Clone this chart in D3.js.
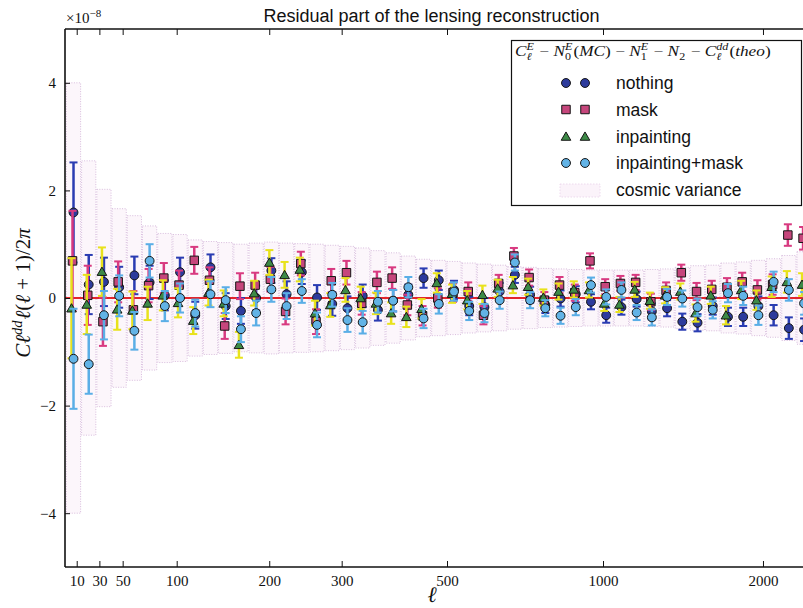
<!DOCTYPE html>
<html><head><meta charset="utf-8">
<script src="https://cdn.jsdelivr.net/npm/d3@7"></script>
<style>body{margin:0;background:#fff}svg{display:block}svg text{white-space:pre}</style>
</head><body>
<svg id="c" width="803" height="608"></svg>
<script>
// ---------- DATA (values in units of 1e-8) ----------
const binIndex = d3.range(49);
const nothing = [1.59,0.25,0.30,0.20,0.42,0.29,0.05,0.48,-0.32,0.57,-0.15,-0.24,0.00,0.51,0.07,0.48,0.01,-0.11,-0.19,0.04,-0.22,-0.05,0.06,0.37,0.33,0.15,-0.15,-0.17,0.12,0.43,0.06,-0.13,-0.01,0.07,-0.07,-0.32,-0.17,-0.02,-0.25,-0.19,-0.44,-0.46,-0.15,-0.35,-0.35,-0.15,-0.32,-0.56,-0.59];
const mask = [0.69,0.05,-0.44,0.30,-0.22,0.23,0.37,0.24,0.70,0.33,-0.52,0.22,0.24,0.35,-0.25,0.64,-0.44,0.32,0.47,-0.10,0.29,0.37,-0.13,-0.33,0.00,0.10,0.12,-0.32,0.27,0.78,0.38,-0.04,0.24,0.10,0.69,0.21,0.27,0.29,-0.07,0.14,0.47,0.12,0.16,0.20,0.30,0.15,0.25,1.17,1.11];
const inpainting = [-0.19,-0.12,0.49,-0.21,-0.23,-0.10,0.05,-0.09,-0.42,0.10,-0.10,-0.87,0.09,0.66,0.43,0.53,-0.28,-0.13,0.15,0.00,-0.10,-0.28,-0.35,-0.20,0.28,0.08,-0.04,0.06,0.18,0.24,0.21,0.01,0.12,0.16,0.15,-0.10,-0.12,0.16,-0.05,0.05,0.12,-0.28,0.05,-0.32,0.15,-0.04,0.21,0.30,0.25];
const inpaintingMask = [-1.13,-1.23,-0.32,0.04,-0.61,0.69,-0.15,0.00,-0.28,0.07,-0.04,-0.58,-0.28,0.16,-0.15,0.13,-0.50,0.06,-0.41,-0.45,-0.07,-0.05,0.20,-0.38,-0.11,0.12,-0.24,-0.28,-0.04,0.66,-0.04,-0.19,-0.33,-0.17,0.24,0.02,0.15,-0.27,-0.36,0.02,-0.01,-0.17,-0.22,0.09,0.04,-0.32,0.30,0.15,-0.10];
const errHalf = [0.93,0.55,0.45,0.38,0.35,0.31,0.28,0.27,0.25,0.24,0.24,0.24,0.23,0.23,0.24,0.22,0.23,0.22,0.22,0.21,0.20,0.20,0.19,0.18,0.18,0.17,0.17,0.17,0.16,0.15,0.15,0.15,0.15,0.15,0.14,0.14,0.14,0.14,0.15,0.15,0.15,0.16,0.16,0.17,0.17,0.18,0.19,0.20,0.21];
const cosmicVar = [4.00,2.55,2.02,1.66,1.53,1.34,1.20,1.18,1.08,1.05,1.03,1.00,1.02,1.04,1.02,1.01,1.00,0.98,0.96,0.93,0.88,0.84,0.78,0.72,0.70,0.68,0.65,0.63,0.61,0.58,0.57,0.55,0.54,0.53,0.52,0.52,0.52,0.52,0.53,0.54,0.57,0.60,0.61,0.65,0.67,0.70,0.73,0.79,0.86];
const tickLabels = [10,30,50,100,200,300,500,1000,2000];
const tickBinPos = [0.21,1.70,3.23,6.78,12.86,17.62,24.54,34.79,45.30]; // ℓ tick location in bin-index units
const yTicks = [-4,-2,0,2,4];
const seriesNames = ["nothing","mask","inpainting","inpainting+mask"];

// ---------- STYLE ----------
const series = [
  {name:seriesNames[0], vals:nothing,        shape:"circle",   fill:"#2d3b9c", bar:"#2a3cb2", dx:0},
  {name:seriesNames[1], vals:mask,           shape:"square",   fill:"#c6467c", bar:"#d83a80", dx:-1},
  {name:seriesNames[2], vals:inpainting,     shape:"triangle", fill:"#3d8a47", bar:"#e8e21c", dx:-2},
  {name:seriesNames[3], vals:inpaintingMask, shape:"circle",   fill:"#62b3e6", bar:"#5aaee6", dx:0}
];
const W = 803, H = 608;
const P = {left:65, top:29, bottom:567};
const binStep = 15.22;
const svg = d3.select("#c");
const x = d3.scaleLinear().domain([-0.5, 48.5]).range([65.9, 65.9 + 49*binStep]);
const y = d3.scaleLinear().domain([-5, 5]).range([P.bottom, P.top]);

svg.append("defs").append("clipPath").attr("id","clip")
  .append("rect").attr("x",P.left).attr("y",P.top).attr("width",W-P.left).attr("height",P.bottom-P.top);

const plot = svg.append("g").attr("clip-path","url(#clip)");

// cosmic variance boxes
plot.append("g").selectAll("rect").data(binIndex).join("rect")
  .attr("x", i => x(i-0.5)+0.5)
  .attr("width", i => x(i+0.5)-x(i-0.5)-1)
  .attr("y", i => y(cosmicVar[i]))
  .attr("height", i => y(-cosmicVar[i]) - y(cosmicVar[i]))
  .attr("fill","#fcf6fb").attr("stroke","#cfadd6").attr("stroke-width",0.8).attr("stroke-dasharray","1,1.5");

// zero line
plot.append("line").attr("x1",P.left).attr("x2",W).attr("y1",y(0)).attr("y2",y(0))
  .attr("stroke","#e2262c").attr("stroke-width",2);

function symPath(shape){
  if(shape==="circle") return d3.symbol(d3.symbolCircle, 62)();
  if(shape==="square") return d3.symbol(d3.symbolSquare, 72)();
  return d3.symbol(d3.symbolTriangle, 40)();
}

series.forEach(s => {
  const g = plot.append("g");
  const cap = 4;
  binIndex.forEach(i => {
    const cx = x(i) + s.dx, v = s.vals[i], e = errHalf[i];
    g.append("line").attr("x1",cx).attr("x2",cx).attr("y1",y(v-e)).attr("y2",y(v+e))
      .attr("stroke",s.bar).attr("stroke-width",2.5);
    [v-e, v+e].forEach(t => g.append("line").attr("x1",cx-cap).attr("x2",cx+cap)
      .attr("y1",y(t)).attr("y2",y(t)).attr("stroke",s.bar).attr("stroke-width",2));
  });
  g.selectAll("path").data(binIndex).join("path")
    .attr("d", symPath(s.shape))
    .attr("transform", i => `translate(${x(i)+s.dx},${y(s.vals[i]) + (s.shape==="triangle"?1:0)})`)
    .attr("fill", s.fill).attr("stroke","#151515").attr("stroke-width",1);
});

// ---------- AXES ----------
const serif = "'Liberation Serif','DejaVu Serif',serif";
const sans = "'Liberation Sans',Arial,sans-serif";
const axL = svg.append("g").attr("transform",`translate(${P.left},0)`)
  .call(d3.axisLeft(y).tickValues(yTicks).tickSizeInner(-5).tickSizeOuter(0).tickPadding(9));
const axB = svg.append("g").attr("transform",`translate(0,${P.bottom})`)
  .call(d3.axisBottom(x).tickValues(tickBinPos).tickFormat((d,i)=>tickLabels[i]).tickSizeInner(-6).tickSizeOuter(0).tickPadding(8));
const axT = svg.append("g").attr("transform",`translate(0,${P.top})`)
  .call(d3.axisTop(x).tickValues(tickBinPos).tickFormat("").tickSizeInner(-6).tickSizeOuter(0));
[axL,axB,axT].forEach(a => {
  a.selectAll("text").attr("font-family",serif).attr("font-size",15).attr("fill","#111");
  a.selectAll("line").attr("stroke","#111").attr("stroke-width",1);
  a.select(".domain").attr("stroke","#111").attr("stroke-width",1.6);
});
axL.select(".domain").attr("d",`M0,${P.top}V${P.bottom}`);
axB.select(".domain").attr("d",`M${P.left},0H${W}`);
axT.select(".domain").attr("d",`M${P.left},0H${W}`);

// ---------- MATH TEXT HELPER ----------
function mathText(parent, parts, size, fam){
  const g = parent.append("g");
  let cx = 0;
  const small = size*0.7;
  parts.forEach(p => {
    if(p.t !== undefined){
      const t = g.append("text").attr("x",cx).attr("y",0).attr("font-family",fam)
        .attr("font-size",size).attr("font-style",p.i?"italic":"normal").attr("fill","#111").text(p.t);
      cx += t.node().getComputedTextLength() + (p.gap||0);
    } else {
      let w = 0;
      if(p.sup){
        const t = g.append("text").attr("x",cx).attr("y",-size*0.4).attr("font-family",fam)
          .attr("font-size",small).attr("font-style",p.supI?"italic":"normal").attr("fill","#111").text(p.sup);
        w = Math.max(w, t.node().getComputedTextLength());
      }
      if(p.sub){
        const t = g.append("text").attr("x",cx).attr("y",size*0.28).attr("font-family",fam)
          .attr("font-size",small).attr("font-style",p.subI?"italic":"normal").attr("fill","#111").text(p.sub);
        w = Math.max(w, t.node().getComputedTextLength());
      }
      cx += w + 1;
    }
  });
  return {g, width:cx};
}

// title
svg.append("text").attr("x",431.5).attr("y",22).attr("text-anchor","middle")
  .attr("font-family",sans).attr("font-size",18).attr("fill","#111")
  .text("Residual part of the lensing reconstruction");

// ×10^-8
const mult = svg.append("text").attr("x",66).attr("y",23).attr("font-family",serif).attr("font-size",15).attr("fill","#111");
mult.append("tspan").text("×10");
mult.append("tspan").attr("dy",-6).attr("font-size",11).text("−8");

// x label
svg.append("text").attr("x",432).attr("y",602).attr("text-anchor","middle")
  .attr("font-family",serif).attr("font-style","italic").attr("font-size",22).attr("fill","#111").text("ℓ");

// y label
{
  const holder = svg.append("g");
  const m = mathText(holder, [
    {t:"C", i:true}, {t:"ℓ", i:true}, {sup:"dd", supI:true}, {t:"ℓ", i:true},
    {t:"("}, {t:"ℓ", i:true}, {t:" + 1)/2"}, {t:"π", i:true}
  ], 21, serif);
  m.g.attr("transform",`translate(${-m.width/2},0)`);
  holder.attr("transform","translate(30,293) rotate(-90)");
}

// ---------- LEGEND ----------
const lg = svg.append("g");
lg.append("rect").attr("x",511.5).attr("y",40.5).attr("width",290).attr("height",165)
  .attr("fill","#fff").attr("stroke","#111").attr("stroke-width",1.2);
{
  const holder = lg.append("g");
  const m = mathText(holder, [
    {t:"C", i:true}, {sub:"ℓ", sup:"E", subI:true, supI:true}, {t:" − "},
    {t:"N", i:true}, {sub:"0", sup:"E", supI:true}, {t:"("}, {t:"MC", i:true}, {t:")"}, {t:" − "},
    {t:"N", i:true}, {sub:"1", sup:"E", supI:true}, {t:" − "},
    {t:"N", i:true}, {sub:"2"}, {t:" − "},
    {t:"C", i:true}, {sub:"ℓ", sup:"dd", subI:true, supI:true}, {t:"("}, {t:"theo", i:true}, {t:")"}
  ], 15, serif);
  const sc = 280 / m.width;
  holder.attr("transform",`translate(515,56) scale(${Math.min(sc,1.15)},1)`);
}
const rowsY = [83, 109.5, 136.5, 163, 190];
series.forEach((s,k) => {
  [566, 585].forEach(mx => lg.append("path").attr("d",symPath(s.shape))
    .attr("transform",`translate(${mx},${rowsY[k] + (s.shape==="triangle"?1:0)})`)
    .attr("fill",s.fill).attr("stroke","#151515").attr("stroke-width",1));
  lg.append("text").attr("x",616).attr("y",rowsY[k]+6).attr("font-family",sans).attr("font-size",17.5)
    .attr("fill","#111").text(s.name);
});
lg.append("rect").attr("x",560).attr("y",184).attr("width",40).attr("height",13)
  .attr("fill","#fbf3fa").attr("stroke","#ead2ea").attr("stroke-width",0.8).attr("stroke-dasharray","1.5,1.5");
lg.append("text").attr("x",616).attr("y",rowsY[4]+6).attr("font-family",sans).attr("font-size",17.5)
  .attr("fill","#111").text("cosmic variance");
</script>
</body></html>
